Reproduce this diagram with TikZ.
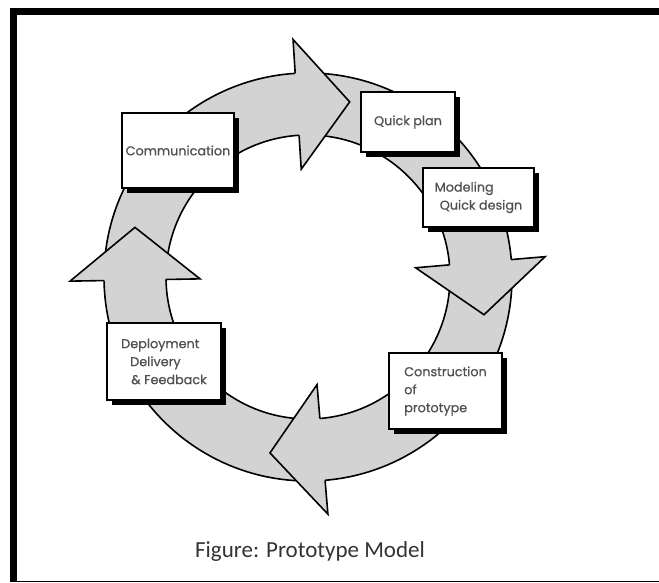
\documentclass[tikz,border=0pt]{standalone}
\usepackage{fontspec}
\setmainfont{Poppins}[FakeBold=0.6]
\newfontfamily\capfont{Carlito}
\usetikzlibrary{shadows}
\definecolor{ringgray}{RGB}{211,211,211}
\definecolor{labelgray}{RGB}{80,80,80}
\tikzset{
  box/.style={draw, line width=2pt, fill=white, text=labelgray, align=left, inner sep=0pt,
    font=\fontsize{12.8}{18}\selectfont,
    drop shadow={shadow xshift=5pt, shadow yshift=-5pt, fill=black, opacity=1}},
  band/.style={fill=ringgray, draw=black, line width=1.6pt}
}

\begin{document}
\begin{tikzpicture}[x=1pt, y=1pt]
  \useasboundingbox (0,0) rectangle (659,583);
  % frame
  \fill (10,568) rectangle (659,575);
  \fill (10,1) rectangle (17,575);
  \draw[line width=1.2pt] (10,1.5) -- (659,1.5);
  % ring with the four heads
  \begin{scope}[shift={(308,306)}]
    \path[band, even odd rule] (0,0) circle (204) (0,0) circle (142);
    \foreach \a/\t in {93.6/76.6, 181/164, 4.9/-12.1, 274.8/257.8} {
      \fill[ringgray] (\a:238) -- (\t:180) -- (\a:108) -- cycle;
      \draw[line width=1.6pt] (\a:204) -- (\a:238) -- (\t:180) -- (\a:108) -- (\a:142);
    }
  \end{scope}
  % boxes
  \node (comm) [box, minimum width=112pt, minimum height=75pt] at (178,432.5) {Communication};
  \node (plan) [box, minimum width=94pt, minimum height=60pt] at (408,461) {Quick plan};
  \node (design) [box, minimum width=111pt, minimum height=59pt] at (478.5,385.5) {Modeling\\\hspace*{5pt}Quick design};
  \node (build) [box, minimum width=113pt, minimum height=76pt] at (445.5,192) {Construction\\of\\prototype};
  \node (deploy) [box, minimum width=114pt, minimum height=77pt] at (164,221.5) {Deployment\\\hspace*{9pt}Delivery\\\hspace*{10pt}\& Feedback};
  % caption
  \node (caption) [font=\capfont\fontsize{23}{27}\selectfont, text=black!80, anchor=base] at (310,25) {Figure: Prototype Model};
\end{tikzpicture}
\end{document}
